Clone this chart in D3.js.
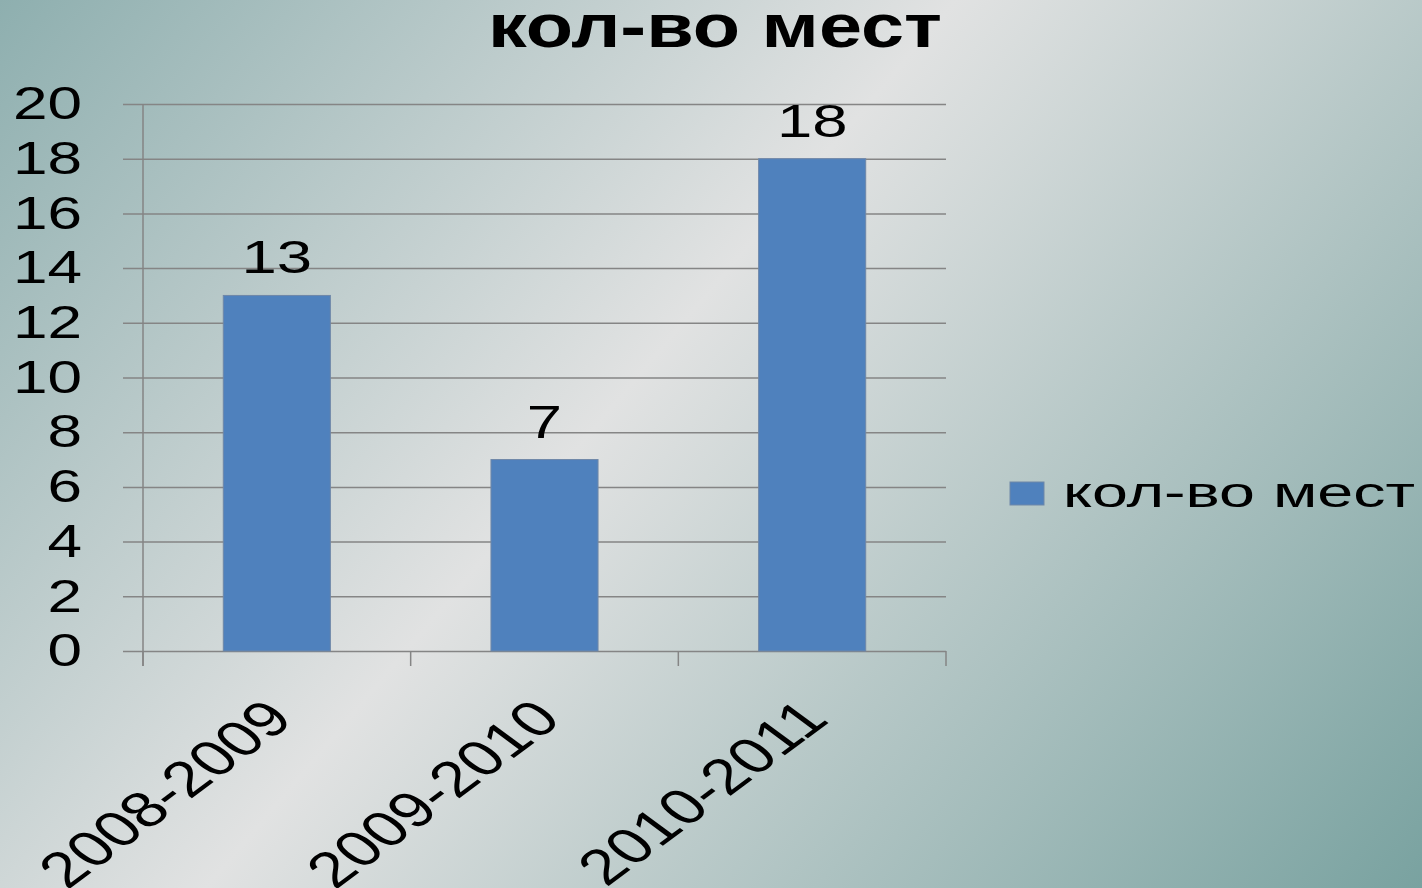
<!DOCTYPE html>
<html>
<head>
<meta charset="utf-8">
<script src="https://cdn.jsdelivr.net/npm/d3@7"></script>
<style>
  body { margin: 0; overflow: hidden; }
  text { font-family: "Liberation Sans", Arial, sans-serif; fill: #000; }
</style>
</head>
<body>
<script>
// data
var categories = ["2008-2009", "2009-2010", "2010-2011"];
var values = [13, 7, 18];
var seriesName = "кол-во мест";
var yTicks = [0, 2, 4, 6, 8, 10, 12, 14, 16, 18, 20];

var W = 1422, H = 888;
var SX = 1.35; // the original slide is stretched sideways
var barColor = "#4f81bd";
var gridColor = "#858585";

var svg = d3.select("body").append("svg")
	.attr("width", W)
	.attr("height", H);

// background gradient
var grad = svg.append("defs").append("linearGradient")
	.attr("id", "bg")
	.attr("gradientUnits", "userSpaceOnUse")
	.attr("x1", 0).attr("y1", 0)
	.attr("x2", 1268).attr("y2", 1071);
grad.append("stop").attr("offset", 0).attr("stop-color", "#8eafaf");
grad.append("stop").attr("offset", 0.44).attr("stop-color", "#e1e2e2");
grad.append("stop").attr("offset", 1).attr("stop-color", "#79a2a0");

svg.append("rect")
	.attr("width", W)
	.attr("height", H)
	.attr("fill", "url(#bg)");

// scales
var x = d3.scaleBand()
	.domain(categories)
	.range([143, 946])
	.paddingInner(0.6)
	.paddingOuter(0.3);

var y = d3.scaleLinear()
	.domain([0, 20])
	.range([651, 104]);

// Y axis with gridlines
var yAxis = svg.append("g")
	.attr("transform", "translate(123,0)")
	.call(d3.axisLeft(y).tickValues(yTicks).tickSize(-(946 - 123)).tickPadding(0));
yAxis.select(".domain").remove();
yAxis.selectAll(".tick line")
	.attr("stroke", gridColor)
	.attr("stroke-width", 1.5);
yAxis.selectAll(".tick text")
	.attr("x", -41 / SX)
	.attr("dy", "0.32em")
	.attr("transform", "scale(" + SX + ",1)")
	.attr("font-size", 46);

// vertical axis line
svg.append("line")
	.attr("x1", 143).attr("x2", 143)
	.attr("y1", y(20)).attr("y2", 666)
	.attr("stroke", gridColor)
	.attr("stroke-width", 1.5);

// x ticks at category boundaries
var bounds = d3.range(categories.length + 1).map(function(i) {
	return x.range()[0] + i * x.step();
});
svg.append("g").selectAll("line")
	.data(bounds)
	.join("line")
	.attr("x1", function(d) { return d; })
	.attr("x2", function(d) { return d; })
	.attr("y1", y(0))
	.attr("y2", 666)
	.attr("stroke", gridColor)
	.attr("stroke-width", 1.5);

// bars
svg.append("g").selectAll("rect")
	.data(values)
	.join("rect")
	.attr("x", function(d, i) { return x(categories[i]); })
	.attr("y", function(d) { return y(d); })
	.attr("width", x.bandwidth())
	.attr("height", function(d) { return y(0) - y(d); })
	.attr("fill", barColor)
	.attr("stroke", "#6f87a8")
	.attr("stroke-width", 1);

// value labels
svg.append("g").selectAll("text")
	.data(values)
	.join("text")
	.attr("transform", function(d, i) {
		var cx = x(categories[i]) + x.bandwidth() / 2;
		return "translate(" + cx + "," + (y(d) - 22) + ") scale(" + SX + ",1)";
	})
	.attr("text-anchor", "middle")
	.attr("font-size", 47)
	.text(function(d) { return d; });

// X axis labels, rotated
var xAxis = svg.append("g")
	.attr("transform", "translate(0," + y(0) + ")")
	.call(d3.axisBottom(x).tickSize(0));
xAxis.select(".domain").remove();
xAxis.selectAll(".tick text")
	.attr("x", 0)
	.attr("y", 0)
	.attr("dy", "0.35em")
	.attr("text-anchor", "end")
	.attr("font-size", 50)
	.attr("transform", "translate(2,58) scale(" + SX + ",1) rotate(-45)");

// title
svg.append("text")
	.attr("x", 488)
	.attr("y", 47)
	.attr("font-size", 62)
	.attr("font-weight", "bold")
	.attr("textLength", 454)
	.attr("lengthAdjust", "spacingAndGlyphs")
	.text(seriesName);

// legend
svg.append("rect")
	.attr("x", 1010)
	.attr("y", 482)
	.attr("width", 34)
	.attr("height", 23)
	.attr("fill", barColor)
	.attr("stroke", "#6f87a8");
svg.append("text")
	.attr("x", 1063)
	.attr("y", 507)
	.attr("font-size", 43)
	.attr("textLength", 352)
	.attr("lengthAdjust", "spacingAndGlyphs")
	.text(seriesName);
</script>
</body>
</html>
